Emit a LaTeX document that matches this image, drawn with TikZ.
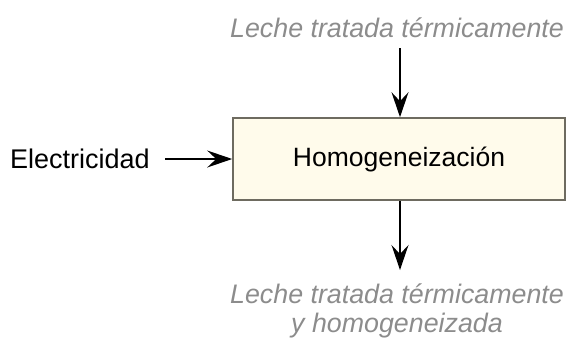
\documentclass[tikz,border=0pt]{standalone}
\usepackage{fontspec}
\setmainfont{Liberation Sans}
\usetikzlibrary{arrows.meta}
\definecolor{boxfill}{HTML}{FFFBEB}
\definecolor{boxline}{HTML}{6E6B60}
\definecolor{graytext}{HTML}{8C8C8C}
\begin{document}
\begin{tikzpicture}[x=1pt,y=-1pt,
  lbl/.style={font=\fontsize{27}{32}\selectfont, inner sep=0pt},
  glbl/.style={font=\fontsize{26.8}{30}\selectfont\itshape, text=graytext, inner sep=0pt, align=center},
  procbox/.style={draw=boxline, line width=1.6pt, fill=boxfill, minimum width=332pt, minimum height=82pt, inner sep=0pt, font=\fontsize{26.5}{30}\selectfont},
  flow/.style={line width=1.4pt, -{Stealth[length=25pt,width=17pt,inset=9pt]}}
]
\useasboundingbox (0,0) rectangle (570,338);
\node[procbox] (box) at (399,159) {Homogeneización};
\node[lbl, anchor=west] (elec) at (10,159) {Electricidad};
\node[glbl] (inp) at (397,28) {Leche tratada térmicamente};
\node[glbl] (out) at (397,311) {Leche tratada térmicamente\\[-1pt]y homogeneizada};
\coordinate (ls) at (165,159);
\coordinate (ts) at (400,48);
\coordinate (be) at (400,270);
\draw[flow] (ls) -- (box.west);
\draw[flow] (ts) -- (box.north -| ts);
\draw[flow] (box.south -| be) -- (be);
\end{tikzpicture}
\end{document}
